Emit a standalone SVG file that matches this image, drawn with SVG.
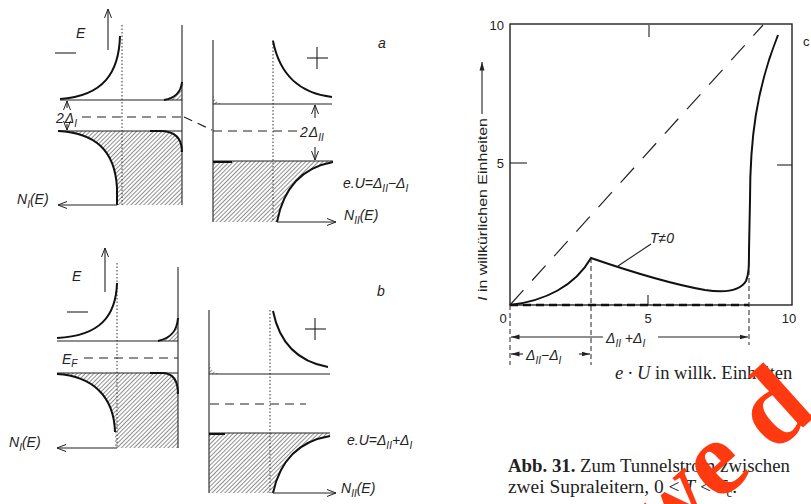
<svg xmlns="http://www.w3.org/2000/svg" width="811" height="504" viewBox="0 0 811 504">
<style>
.ln{stroke:#222;stroke-width:1.1;fill:none}
.th{stroke:#111;stroke-width:2;fill:none}
.dot{stroke:#333;stroke-width:1;stroke-dasharray:1.5 2;fill:none}
.dash{stroke:#222;stroke-width:1.2;stroke-dasharray:9 6;fill:none}
.hat{fill:url(#hatch);stroke:none}
.lb{font-family:"Liberation Sans",Arial,sans-serif;font-style:italic;font-size:14px;fill:#222}
.sm{font-size:10px}
.ax{font-family:"Liberation Sans",Arial,sans-serif;font-size:13px;fill:#222}
.cap{font-family:"Liberation Serif","Times New Roman",serif;font-size:18.5px;fill:#222}
.wm{font-family:"Liberation Serif","Times New Roman",serif;font-weight:bold;font-size:108px;fill:#ff3a10}
</style>
<defs>
<pattern id="hatch" width="3" height="3" patternUnits="userSpaceOnUse" patternTransform="rotate(45)"><line x1="0" y1="0" x2="0" y2="3" stroke="#2a2a2a" stroke-width="1.05"/></pattern>
<marker id="ov" markerWidth="10" markerHeight="8" refX="9" refY="4" orient="auto" markerUnits="userSpaceOnUse"><path d="M0,0.5 L9,4 L0,7.5" fill="none" stroke="#222" stroke-width="1"/></marker>
<marker id="fa" markerWidth="9" markerHeight="6" refX="8.5" refY="3" orient="auto" markerUnits="userSpaceOnUse"><path d="M0,0.5 L8.5,3 L0,5.5 Z" fill="#222"/></marker>
</defs>

<!-- Panel a left -->
<g id="a-left">
<line class="ln" x1="108" y1="50" x2="108" y2="9" marker-end="url(#ov)"/>
<text class="lb" x="76" y="38">E</text>
<line class="ln" x1="55" y1="53" x2="76" y2="53" stroke-width="1.6"/>
<line class="dot" x1="122" y1="25" x2="122" y2="205"/>
<line class="ln" x1="182" y1="25" x2="182" y2="205"/>
<path class="th" d="M120,36 C119,72 104,96 60,99"/>
<line class="ln" x1="60" y1="100" x2="182" y2="100"/>
<path class="hat" d="M164,100 C176,98 181,92 182,82 L182,100 Z"/>
<path class="th" d="M164,100 C176,98 181,92 182,82" stroke-width="1.2"/>
<path class="hat" d="M58,131 L160,131 C176,131 182,140 182,152 L182,205 L117,205 L117,188 C115,150 95,133 58,131 Z"/>
<line class="ln" x1="58" y1="131" x2="182" y2="131"/>
<path class="th" d="M58,131 C95,133 115,150 117,188 L117,205"/>
<path class="th" d="M150,131 L160,131 C176,131 182,140 182,152"/>
<line class="ln" x1="67" y1="108" x2="67" y2="101" marker-end="url(#ov)"/>
<line class="ln" x1="67" y1="124" x2="67" y2="130" marker-end="url(#ov)"/>
<text class="lb" x="56" y="123">2<tspan dx="1">Δ</tspan><tspan class="sm" dy="4">I</tspan></text>
<line class="dash" x1="82" y1="117" x2="182" y2="117"/>
<line class="ln" x1="117" y1="205" x2="58" y2="205" marker-end="url(#ov)"/>
<text class="lb" x="17" y="204">N<tspan class="sm" dy="4">I</tspan><tspan dy="-4">(E)</tspan></text>
</g>

<!-- Panel a right -->
<g id="a-right">
<line class="ln" x1="213" y1="40" x2="213" y2="222"/>
<line class="dot" x1="273" y1="40" x2="273" y2="222"/>
<path class="th" d="M273,41 C280,76 300,93 332,97"/>
<path class="hat" d="M213,93 C214,100 217,103 223,104 L213,104 Z"/>
<line class="ln" x1="213" y1="104" x2="332" y2="104"/>
<line class="ln" x1="315" y1="118" x2="315" y2="105" marker-end="url(#ov)"/>
<line class="ln" x1="315" y1="147" x2="315" y2="160" marker-end="url(#ov)"/>
<text class="lb" x="300" y="137">2<tspan dx="1">Δ</tspan><tspan class="sm" dy="4">II</tspan></text>
<path class="hat" d="M213,161 L333,161 C333,163 331,164 329,164 C300,170 283,190 277,222 L213,222 Z"/>
<line class="ln" x1="213" y1="161" x2="333" y2="161"/>
<path class="th" d="M333,162 C300,168 283,190 277,222"/>
<path class="th" d="M213,162 L232,162"/>
<line class="ln" x1="277" y1="222" x2="336" y2="222" marker-end="url(#ov)"/>
<text class="lb" x="344" y="220">N<tspan class="sm" dy="4">II</tspan><tspan dy="-4">(E)</tspan></text>
<line class="ln" x1="307" y1="58" x2="328" y2="58"/>
<line class="ln" x1="317" y1="47" x2="317" y2="69"/>
<text class="lb" x="378" y="48" font-style="normal" font-size="12">a</text>
<text class="lb" x="343" y="188">e.U=Δ<tspan class="sm" dy="4">II</tspan><tspan dy="-4">−Δ</tspan><tspan class="sm" dy="4">I</tspan></text>
</g>

<!-- connector between a panels -->
<g id="connectors">
<line class="dash" x1="184" y1="117" x2="212" y2="130"/>
<line class="dash" x1="213" y1="131" x2="298" y2="131"/>
</g>

<!-- Panel b left -->
<g id="b-left">
<line class="ln" x1="105" y1="292" x2="105" y2="248" marker-end="url(#ov)"/>
<text class="lb" x="72" y="281">E</text>
<line class="ln" x1="67" y1="312" x2="88" y2="312" stroke-width="1.6"/>
<line class="dot" x1="117" y1="263" x2="117" y2="448"/>
<line class="ln" x1="178" y1="267" x2="178" y2="448"/>
<path class="th" d="M117,283 C116,316 100,336 57,338"/>
<line class="ln" x1="57" y1="341" x2="178" y2="341"/>
<path class="hat" d="M158,341 C172,338 177,330 178,318 L178,341 Z"/>
<path class="th" d="M158,341 C172,338 177,330 178,318" stroke-width="1.2"/>
<text class="lb" x="62" y="364">E<tspan class="sm" dy="3">F</tspan></text>
<line class="dash" x1="84" y1="358" x2="178" y2="358"/>
<path class="hat" d="M57,373 L162,373 C174,373 178,382 178,394 L178,448 L115,448 L115,432 C114,396 92,376 57,374 Z"/>
<line class="ln" x1="57" y1="373" x2="178" y2="373"/>
<path class="th" d="M57,374 C92,376 114,396 115,432"/>
<path class="th" d="M150,373 L162,373 C174,373 178,382 178,394"/>
<line class="ln" x1="117" y1="448" x2="57" y2="448" marker-end="url(#ov)"/>
<text class="lb" x="9" y="447">N<tspan class="sm" dy="4">I</tspan><tspan dy="-4">(E)</tspan></text>
</g>

<!-- Panel b right -->
<g id="b-right">
<line class="ln" x1="209" y1="310" x2="209" y2="493"/>
<line class="dot" x1="270" y1="310" x2="270" y2="493"/>
<path class="th" d="M273,311 C280,346 300,362 328,367"/>
<path class="hat" d="M209,362 C210,370 214,373 222,374 L209,374 Z"/>
<line class="ln" x1="209" y1="374" x2="330" y2="374"/>
<line class="dash" x1="210" y1="404" x2="306" y2="404"/>
<path class="hat" d="M209,433 L330,433 L330,437 C300,441 280,460 273,493 L209,493 Z"/>
<line class="ln" x1="209" y1="433" x2="330" y2="433"/>
<path class="th" d="M330,436 C300,441 280,460 273,493"/>
<path class="th" d="M209,434 L225,434"/>
<line class="ln" x1="273" y1="493" x2="336" y2="493" marker-end="url(#ov)"/>
<text class="lb" x="341" y="493">N<tspan class="sm" dy="4">II</tspan><tspan dy="-4">(E)</tspan></text>
<line class="ln" x1="305" y1="329" x2="326" y2="329"/>
<line class="ln" x1="315" y1="318" x2="315" y2="340"/>
<text class="lb" x="377" y="296" font-style="normal" font-size="12">b</text>
<text class="lb" x="347" y="445">e.U=Δ<tspan class="sm" dy="4">II</tspan><tspan dy="-4">+Δ</tspan><tspan class="sm" dy="4">I</tspan></text>
</g>

<!-- Graph c -->
<g id="graph">
<rect x="510" y="24" width="282" height="281" fill="none" stroke="#222" stroke-width="1.4"/>
<line class="ln" x1="510" y1="163" x2="527" y2="163"/>
<line class="ln" x1="777" y1="165" x2="792" y2="165"/>
<line class="ln" x1="649" y1="25" x2="649" y2="37"/>
<line class="ln" x1="648" y1="305" x2="648" y2="295"/>
<text class="ax" x="504" y="30" text-anchor="end">10</text>
<text class="ax" x="504" y="168" text-anchor="end">5</text>
<text class="ax" x="503" y="323" text-anchor="middle">0</text>
<text class="ax" x="648" y="323" text-anchor="middle">5</text>
<text class="ax" x="789" y="323" text-anchor="middle">10</text>
<text class="ax" x="803" y="46">c</text>
<text class="ax" transform="translate(487,301) rotate(-90)" textLength="183" lengthAdjust="spacingAndGlyphs"><tspan font-style="italic">I</tspan> in willkürlichen Einheiten</text>
<line class="ln" x1="482" y1="114" x2="482" y2="62" marker-end="url(#fa)"/>
<line x1="510" y1="305" x2="763" y2="25" stroke="#222" stroke-width="1.2" stroke-dasharray="20 13"/>
<path class="th" d="M510,305 C545,301 575,286 591,258 C620,268 665,283 705,290 C725,293 740,291 746,281 C749,274 749,265 749,250 L750,200 C750,140 756,90 778,35"/>
<line x1="510" y1="305" x2="749" y2="305" stroke="#111" stroke-width="2.4" stroke-dasharray="8 5"/>
<line x1="749" y1="262" x2="749" y2="345" stroke="#222" stroke-width="1" stroke-dasharray="5 3"/>
<line x1="591" y1="258" x2="591" y2="365" stroke="#222" stroke-width="1" stroke-dasharray="5 3"/>
<line x1="510" y1="305" x2="510" y2="365" stroke="#222" stroke-width="1" stroke-dasharray="5 3"/>
<line class="ln" x1="603" y1="337" x2="511" y2="337" marker-end="url(#fa)"/>
<line class="ln" x1="658" y1="337" x2="748" y2="337" marker-end="url(#fa)"/>
<text class="lb" x="606" y="343" font-size="13">Δ<tspan class="sm" dy="4">II</tspan><tspan dy="-4"> +Δ</tspan><tspan class="sm" dy="4">I</tspan></text>
<line class="ln" x1="523" y1="354" x2="511" y2="354" marker-end="url(#fa)"/>
<line class="ln" x1="579" y1="354" x2="590" y2="354" marker-end="url(#fa)"/>
<text class="lb" x="526" y="360" font-size="13">Δ<tspan class="sm" dy="4">II</tspan><tspan dy="-4">−Δ</tspan><tspan class="sm" dy="4">I</tspan></text>
<line class="ln" x1="618" y1="266" x2="651" y2="244"/>
<text class="lb" x="650" y="243" font-size="13">T≠0</text>
<text class="cap" x="615" y="379" font-size="16"><tspan font-style="italic">e · U</tspan>  in willk. Einheiten</text>
</g>

<!-- Caption -->
<g id="caption">
<text class="cap" x="508" y="472" textLength="282" lengthAdjust="spacingAndGlyphs"><tspan font-weight="bold">Abb. 31.</tspan> Zum Tunnelstrom zwischen</text>
<text class="cap" x="508" y="493" textLength="229" lengthAdjust="spacingAndGlyphs">zwei Supraleitern, 0 &lt; <tspan font-style="italic">T</tspan> &lt; <tspan font-style="italic">T</tspan><tspan font-size="12" dy="4">c</tspan><tspan dy="-4">.</tspan></text>
</g>

<!-- Watermark -->
<g id="watermark">
<text class="wm" transform="translate(660,556) rotate(-42)">we d</text>
</g>
</svg>
